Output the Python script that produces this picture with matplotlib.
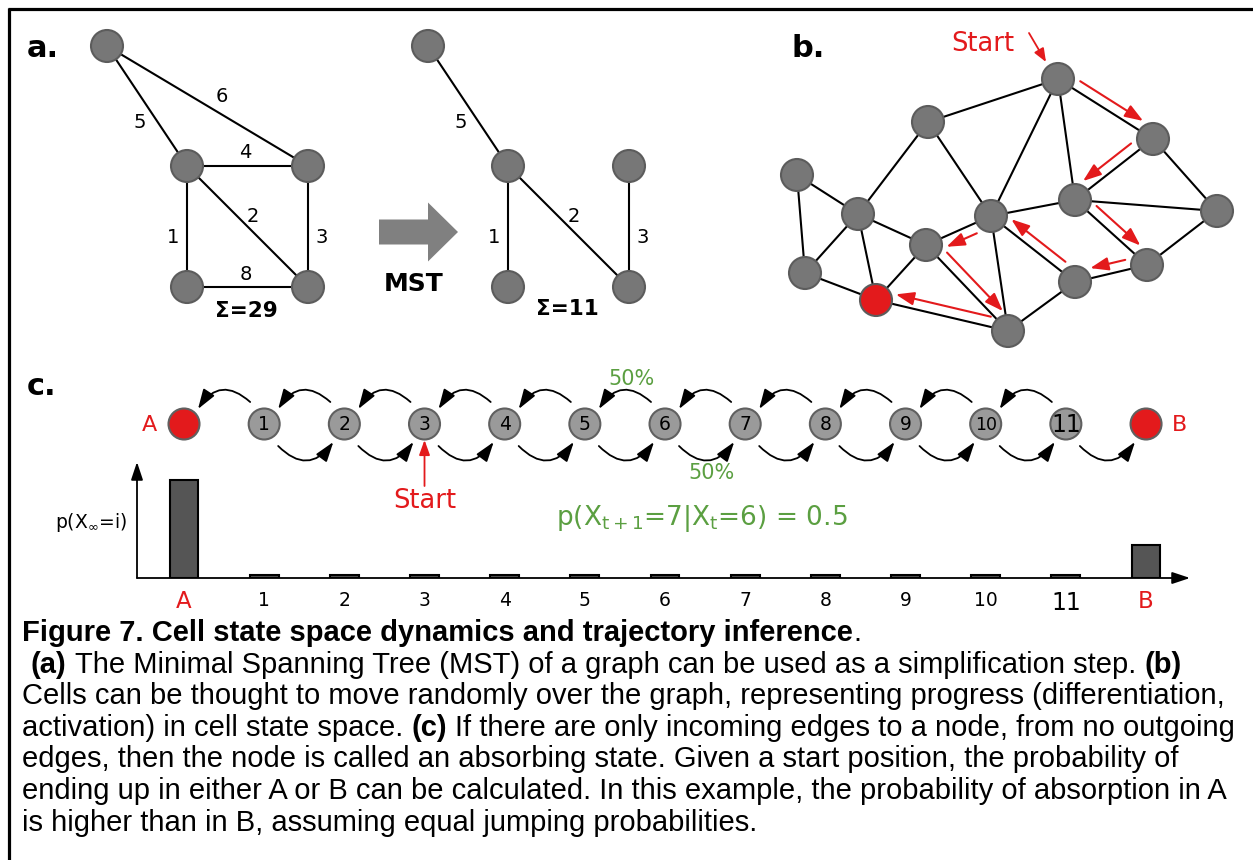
import matplotlib
matplotlib.use('Agg')
import matplotlib.pyplot as plt
import matplotlib.patches as mpatches
from matplotlib.patches import Circle, FancyArrowPatch
import numpy as np

W, H = 1253, 860
RED = '#e31a1c'
GREEN = '#5b9f41'
NODE_GREY = '#777777'
NODE_EDGE = '#5c5c5c'

# --- panel a: weighted graph and its MST ---
A_NODE_X = [107, 187, 308, 187, 308]
A_NODE_Y = [46, 166, 166, 287, 287]
A_EDGES = [(0, 1), (0, 2), (1, 2), (1, 4), (1, 3), (2, 4), (3, 4)]
A_WEIGHTS = [5, 6, 4, 2, 1, 3, 8]
A_TOTAL = 29
MST_SHIFT = 321
MST_EDGES = [(0, 1), (1, 3), (1, 4), (2, 4)]
MST_WEIGHTS = [5, 1, 2, 3]
MST_TOTAL = 11
# label offset from edge midpoint, keyed by weight
W_OFFSET = {5: (-7, 16), 6: (14, -9), 4: (-2, -13), 2: (5, -10),
            1: (-14, 11), 3: (14, 11), 8: (-2, -12)}

# --- panel b: random walk over a graph ---
B_NODE_X = [1058, 928, 1153, 797, 858, 991, 1075, 1217, 926, 805, 876, 1075, 1147, 1008]
B_NODE_Y = [79, 122, 139, 175, 214, 216, 200, 211, 245, 273, 300, 282, 265, 331]
B_EDGES = [(0, 1), (0, 2), (0, 5), (0, 6), (1, 4), (1, 5), (2, 6), (2, 7),
           (3, 4), (3, 9), (4, 9), (4, 10), (4, 8), (5, 8), (5, 6), (5, 13),
           (5, 11), (6, 7), (6, 12), (7, 12), (8, 10), (8, 13), (10, 13),
           (9, 10), (11, 12), (11, 13)]
B_ABSORB = 10
WALK = [0, 2, 6, 12, 11, 5, 8, 13, 10]
WALK_SIDE = [1, -1, 1, -1, -1, 1, 1, -1]

# --- panel c: absorbing chain ---
STATES = ['A', '1', '2', '3', '4', '5', '6', '7', '8', '9', '10', '11', 'B']
START_STATE = 3
P_ABSORB = [0.75, 0.02, 0.02, 0.02, 0.02, 0.02, 0.02, 0.02, 0.02, 0.02, 0.02, 0.02, 0.25]

CAPTION = [
    (22, [("Figure 7. Cell state space dynamics and trajectory inference", 'bold'), (".", 'normal')]),
    (31, [("(a)", 'bold'), (" ", None),
          ("The Minimal Spanning Tree (MST) of a graph can be used as a simplification step.", 'normal'),
          (" ", None), ("(b)", 'bold')]),
    (22, [("Cells can be thought to move randomly over the graph, representing progress (differentiation,", 'normal')]),
    (22, [("activation) in cell state space.", 'normal'), (" ", None), ("(c)", 'bold'), (" ", None),
          ("If there are only incoming edges to a node, from no outgoing", 'normal')]),
    (22, [("edges, then the node is called an absorbing state. Given a start position, the probability of", 'normal')]),
    (22, [("ending up in either A or B can be calculated. In this example, the probability of absorption in A", 'normal')]),
    (22, [("is higher than in B, assuming equal jumping probabilities.", 'normal')]),
]

fig = plt.figure(figsize=(W / 100, H / 100), dpi=100)
ax = fig.add_axes([0, 0, 1, 1])
ax.set_xlim(0, W)
ax.set_ylim(H, 0)
ax.axis('off')

# frame lines (top and left)
ax.plot([8, W], [8.5, 8.5], color='black', lw=2.3, solid_capstyle='butt')
ax.plot([8.5, 8.5], [8, H], color='black', lw=2.3, solid_capstyle='butt')


def node(x, y, r=16, fc=NODE_GREY, ec=NODE_EDGE):
    ax.add_patch(Circle((x, y), r, fc=fc, ec=ec, lw=1.5, zorder=3))


def draw_weighted(xs, ys, edges, weights, total, sum_pos):
    for (i, j), w in zip(edges, weights):
        ax.plot([xs[i], xs[j]], [ys[i], ys[j]], color='black', lw=1.5, zorder=1)
        mx, my = (xs[i] + xs[j]) / 2, (ys[i] + ys[j]) / 2
        ox, oy = W_OFFSET[w]
        ax.text(mx + ox, my + oy, str(w), ha='center', va='center', fontsize=14)
    for x, y in zip(xs, ys):
        node(x, y)
    ax.text(sum_pos[0], sum_pos[1], f'Σ={total}', ha='center', va='center',
            fontsize=15.5, fontweight='bold')


draw_weighted(A_NODE_X, A_NODE_Y, A_EDGES, A_WEIGHTS, A_TOTAL, (246, 311))
mst_x = [x + MST_SHIFT for x in A_NODE_X]
draw_weighted(mst_x, A_NODE_Y, MST_EDGES, MST_WEIGHTS, MST_TOTAL, (567, 309))

ax.add_patch(mpatches.FancyArrow(379, 232, 79, 0, width=25, head_width=59,
                                 head_length=30, length_includes_head=True,
                                 fc='#808080', ec='none'))
ax.text(414, 284, 'MST', ha='center', va='center', fontsize=18, fontweight='bold')

# panel b
for i, j in B_EDGES:
    ax.plot([B_NODE_X[i], B_NODE_X[j]], [B_NODE_Y[i], B_NODE_Y[j]],
            color='black', lw=1.5, zorder=1)
for k, (x, y) in enumerate(zip(B_NODE_X, B_NODE_Y)):
    node(x, y, fc=RED if k == B_ABSORB else NODE_GREY)

for (a, b), side in zip(zip(WALK[:-1], WALK[1:]), WALK_SIDE):
    p0 = np.array([B_NODE_X[a], B_NODE_Y[a]], float)
    p1 = np.array([B_NODE_X[b], B_NODE_Y[b]], float)
    d = (p1 - p0) / np.linalg.norm(p1 - p0)
    n = np.array([d[1], -d[0]])
    off = side * 10 * n
    ax.add_patch(FancyArrowPatch(tuple(p0 + 20 * d + off), tuple(p1 - 18 * d + off),
                                 arrowstyle='-|>,head_length=0.55,head_width=0.2',
                                 mutation_scale=20, lw=1.5, color=RED,
                                 shrinkA=0, shrinkB=0, zorder=2))

ax.text(983, 44, 'Start', ha='center', va='center', fontsize=18.5, color=RED)
ax.add_patch(FancyArrowPatch((1029, 33), (1046, 62),
                             arrowstyle='-|>,head_length=0.5,head_width=0.2',
                             mutation_scale=16, lw=1.3, color=RED,
                             shrinkA=0, shrinkB=0))

# panel c: chain
CX0, CDX, CY = 184, 80.17, 424


def cx(i):
    return CX0 + i * CDX


arc_style = '-|>,head_length=0.6,head_width=0.2'
for i in range(1, len(STATES) - 1):
    ax.add_patch(FancyArrowPatch((cx(i) - 14, CY - 22), (cx(i - 1) + 14, CY - 15),
                                 connectionstyle='arc3,rad=0.58', arrowstyle=arc_style,
                                 mutation_scale=20, lw=1.3, color='black',
                                 shrinkA=0, shrinkB=0))
    ax.add_patch(FancyArrowPatch((cx(i) + 14, CY + 22), (cx(i + 1) - 11, CY + 18),
                                 connectionstyle='arc3,rad=0.58', arrowstyle=arc_style,
                                 mutation_scale=20, lw=1.3, color='black',
                                 shrinkA=0, shrinkB=0))

for i, lab in enumerate(STATES):
    if lab in ('A', 'B'):
        node(cx(i), CY, r=15.5, fc=RED, ec='#606060')
    else:
        node(cx(i), CY, r=15.5, fc='#9a9a9a', ec='#606060')
        fs = 17 if lab == '11' else (12.5 if lab == '10' else 13.5)
        ax.text(cx(i), CY + 1, lab, ha='center', va='center', fontsize=fs, zorder=4)

ax.text(cx(0) - 35, CY + 1, 'A', ha='center', va='center', fontsize=16, color=RED)
ax.text(cx(12) + 33, CY + 1, 'B', ha='center', va='center', fontsize=16, color=RED)
ax.text(632, 379, '50%', ha='center', va='center', fontsize=15, color=GREEN)
ax.text(712, 473, '50%', ha='center', va='center', fontsize=15, color=GREEN)

ax.add_patch(FancyArrowPatch((cx(START_STATE), 486), (cx(START_STATE), 440),
                             arrowstyle='-|>,head_length=0.5,head_width=0.18',
                             mutation_scale=18, lw=1.3, color=RED,
                             shrinkA=0, shrinkB=0))
ax.text(cx(START_STATE), 501, 'Start', ha='center', va='center', fontsize=18.5, color=RED)
ax.text(702, 519, r'p(X$_{\mathregular{t+1}}$=7|X$_{\mathregular{t}}$=6) = 0.5',
        ha='center', va='center', fontsize=19, color=GREEN)

ax.text(27, 57, 'a.', fontsize=22, fontweight='bold', va='baseline')
ax.text(791, 57, 'b.', fontsize=22, fontweight='bold', va='baseline')
ax.text(27, 395, 'c.', fontsize=22, fontweight='bold', va='baseline')

# bar chart of absorption probabilities
px_left, px_right, px_top, px_bot = 137, 1190, 462, 578
bax = fig.add_axes([px_left / W, 1 - px_bot / H, (px_right - px_left) / W, (px_bot - px_top) / H])
bax.set_xlim((px_left - CX0) / CDX, (px_right - CX0) / CDX)
bax.set_ylim(0, (px_bot - px_top) / (98 / 0.75))
bax.patch.set_alpha(0)
for sp in bax.spines.values():
    sp.set_visible(False)
bax.bar(range(len(STATES)), P_ABSORB, width=0.36, color='#555555',
        edgecolor='black', lw=1.5)
bax.set_xticks(range(len(STATES)))
bax.set_xticklabels(STATES)
bax.set_yticks([])
bax.tick_params(axis='x', length=0, pad=9, labelsize=13.5)
for lab in bax.get_xticklabels():
    if lab.get_text() in ('A', 'B'):
        lab.set_color(RED)
        lab.set_fontsize(16.5)
    elif lab.get_text() == '11':
        lab.set_fontsize(17)
bax.annotate('', xy=(1, 0), xytext=(0, 0), xycoords='axes fraction',
             arrowprops=dict(arrowstyle='-|>,head_length=0.6,head_width=0.2',
                             lw=1.3, color='black', shrinkA=0, shrinkB=0,
                             mutation_scale=18))
bax.annotate('', xy=(0, 1), xytext=(0, 0), xycoords='axes fraction',
             arrowprops=dict(arrowstyle='-|>,head_length=0.6,head_width=0.2',
                             lw=1.3, color='black', shrinkA=0, shrinkB=0,
                             mutation_scale=18))
bax.text(-0.009, 0.48, r'p(X$_{\infty}$=i)', transform=bax.transAxes,
         ha='right', va='center', fontsize=13.5)

# caption with mixed bold / regular runs
CAP_FS = 21
CAP_FONT = 'Liberation Sans'
CAP_BASE = 641
CAP_STEP = 31.6
fig.canvas.draw()
renderer = fig.canvas.get_renderer()
space_w = 0.278 * CAP_FS * 100 / 72
for k, (x, parts) in enumerate(CAPTION):
    y = CAP_BASE + k * CAP_STEP
    for s, w in parts:
        if w is None:
            x += space_w
            continue
        t = ax.text(x, y, s, fontsize=CAP_FS, fontweight=w, family=CAP_FONT,
                    ha='left', va='baseline')
        x += t.get_window_extent(renderer=renderer).width

fig.savefig('out.png', dpi=100)
